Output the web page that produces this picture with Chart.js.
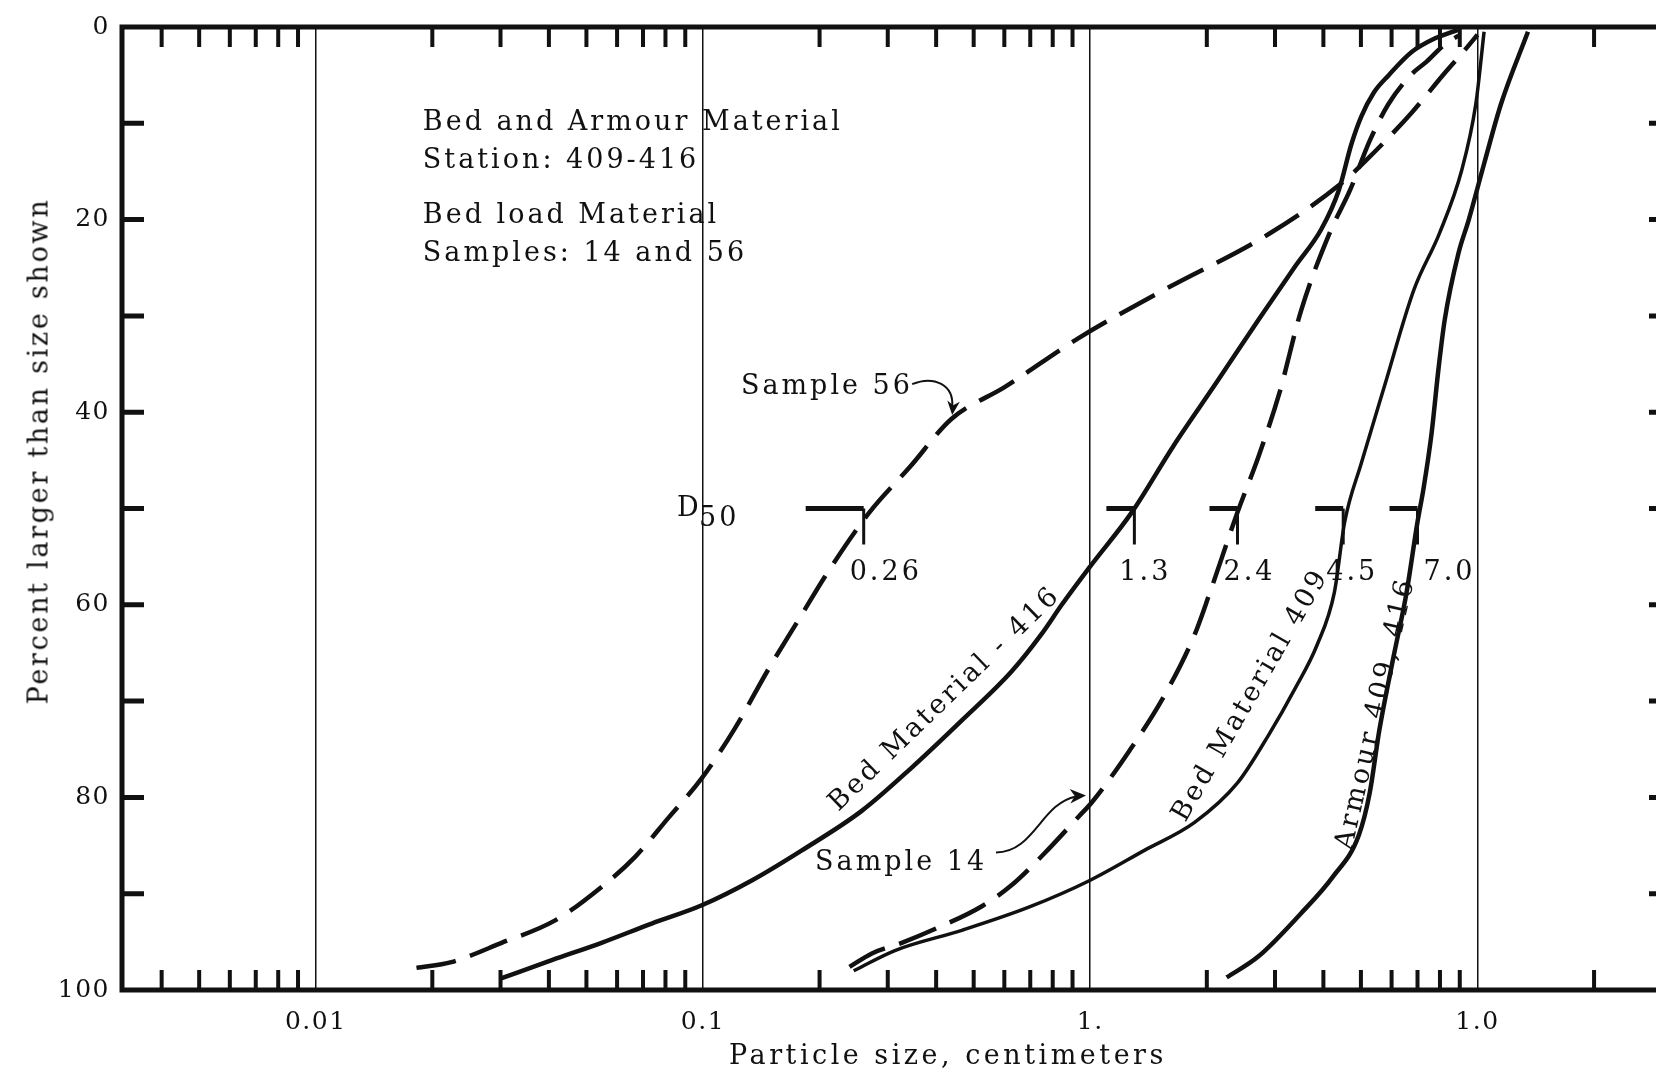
<!DOCTYPE html>
<html>
<head>
<meta charset="utf-8">
<title>Bed and Armour Material - grain size curves</title>
<script src="https://cdn.jsdelivr.net/npm/chart.js@4.4.1/dist/chart.umd.min.js"></script>
<style>
  html, body { margin: 0; padding: 0; background: #fff; overflow: hidden; }
  #wrap { position: relative; width: 1656px; height: 1073px; overflow: hidden; }
  #chart { position: absolute; left: 0; top: 0; }
  .axis-title {
    position: absolute;
    font-family: "DejaVu Serif", serif;
    font-size: 27px;
    color: #111;
    white-space: nowrap;
  }
  #xtitle { left: 948px; top: 1054px; letter-spacing: 3.5px; transform: translate(-50%, -50%); }
  #ytitle { left: 38px; top: 451px; letter-spacing: 2.7px; transform: translate(-50%, -50%) rotate(-90deg); }
</style>
</head>
<body>
<div id="wrap">
  <canvas id="chart" width="1720" height="1073" style="width:1720px;height:1073px"></canvas>
  <div class="axis-title" id="xtitle">Particle size, centimeters</div>
  <div class="axis-title" id="ytitle">Percent larger than size shown</div>
</div>
<script>
"use strict";

// --- data (size in cm, percent larger than size) ---
const BED_416_SIZE = [0.0301, 0.0407, 0.0547, 0.0737, 0.0993, 0.134, 0.180, 0.257, 0.346, 0.466, 0.627, 0.750, 0.844, 1.0, 1.28, 1.64, 2.12, 2.72, 3.39, 3.95, 4.38, 4.73, 5.01, 5.40, 5.90, 6.76, 7.75, 8.90];
const BED_416_PCT  = [98.8, 96.9, 95.1, 93.1, 91.2, 88.6, 85.5, 81.4, 76.9, 72.0, 66.9, 63.0, 60.0, 56.0, 50.4, 43.5, 36.9, 30.4, 24.8, 21.0, 17.0, 12.1, 9.3, 6.8, 5.0, 2.6, 1.2, 0.3];

const BED_409_SIZE = [0.245, 0.313, 0.466, 0.694, 1.0, 1.38, 1.86, 2.40, 2.89, 3.39, 3.85, 4.27, 4.54, 5.02, 5.76, 6.85, 7.98, 9.10, 9.90, 10.4];
const BED_409_PCT  = [98.0, 95.9, 93.8, 91.4, 88.6, 85.5, 82.6, 78.5, 73.5, 68.6, 64.2, 58.7, 51.4, 45.2, 37.2, 27.3, 21.4, 14.9, 8.0, 0.5];

const ARMOUR_SIZE = [2.25, 2.72, 3.49, 4.22, 4.94, 5.27, 5.58, 6.07, 6.56, 7.0, 7.25, 7.60, 7.93, 8.23, 8.93, 9.48, 10.4, 11.5, 13.5];
const ARMOUR_PCT  = [98.7, 96.5, 92.1, 88.3, 83.9, 79.5, 73.0, 65.4, 58.7, 51.4, 48.0, 42.4, 35.5, 30.4, 23.5, 20.1, 14.2, 8.0, 0.5];

const SAMPLE_56_SIZE = [0.0182, 0.0224, 0.0302, 0.0414, 0.0547, 0.0667, 0.0815, 0.0993, 0.121, 0.148, 0.180, 0.207, 0.269, 0.342, 0.438, 0.601, 0.933, 1.55, 2.89, 4.46, 5.17, 6.76, 8.22, 9.27, 10.0];
const SAMPLE_56_PCT  = [97.7, 97.1, 95.1, 92.8, 89.3, 86.2, 82.1, 78.0, 72.8, 66.6, 61.0, 57.0, 50.4, 45.7, 40.7, 37.4, 32.3, 27.3, 21.5, 16.2, 13.8, 8.9, 4.8, 2.4, 0.8];

const SAMPLE_14_SIZE = [0.239, 0.273, 0.326, 0.406, 0.525, 0.627, 0.762, 0.933, 1.01, 1.26, 1.56, 1.86, 2.03, 2.40, 2.72, 3.08, 3.50, 4.15, 4.68, 5.27, 5.89, 6.76, 7.39, 8.23, 8.94];
const SAMPLE_14_PCT  = [97.6, 96.2, 95.1, 93.5, 91.3, 89.1, 85.8, 82.0, 80.5, 75.2, 69.3, 63.1, 58.9, 50.4, 44.6, 38.0, 29.5, 21.4, 17.0, 11.8, 8.0, 4.9, 3.6, 1.8, 0.9];

// D50 markers
const D50_LEVEL = 50;
const D50_VALUES = [0.26, 1.3, 2.4, 4.5, 7.0];
const D50_LABELS = ["0.26", "1.3", "2.4", "4.5", "7.0"];

// axes
const X_MIN = 0.00316, X_MAX = 31.6;
const X_GRID = [0.01, 0.1, 1, 10];
const X_GRID_LABELS = ["0.01", "0.1", "1.", "1.0"];
const X_MINOR_MULT = [2, 3, 4, 5, 6, 7, 8, 9];
const X_DECADES = [0.001, 0.01, 0.1, 1, 10];
const Y_LABELS = [0, 20, 40, 60, 80, 100];
const Y_SIDE_TICKS = [10, 20, 30, 40, 50, 60, 70, 80, 90];

// --- styling / layout ---
const INK = "#111";
const FONT = "DejaVu Serif";
const PLOT = { left: 122, top: 23, right: 1671, bottom: 990 };
const CANVAS_W = 1720, CANVAS_H = 1073;
const D50_BAR_LEN = [58, 28, 28, 28, 28];   // px
const D50_LABEL_DX = [-14, -15, -14, -17, 6]; // px, label offset from marker

// annotation texts anchored in data coordinates
const NOTES = [
  { text: "Bed and Armour Material", x: 0.0189, y: 10.7 },
  { text: "Station: 409-416", x: 0.0189, y: 14.6 },
  { text: "Bed load Material", x: 0.0189, y: 20.4 },
  { text: "Samples: 14 and 56", x: 0.0189, y: 24.3 },
  { text: "Sample 56", x: 0.1253, y: 37.4, base: "middle" },
  { text: "Sample 14", x: 0.1947, y: 86.8, base: "middle" },
  { text: "Bed Material - 416", x: 0.4217, y: 69.8, angle: -44, align: "center", base: "middle" },
  { text: "Bed Material 409", x: 2.60, y: 69.4, angle: -60, align: "center", base: "middle" },
  { text: "Armour 409, 416", x: 5.47, y: 71.3, angle: -77, align: "center", base: "middle" },
];

const zip = (xs, ys) => xs.map((v, i) => ({ x: v, y: ys[i] }));

function curve(label, xs, ys, width, dashed) {
  return {
    label,
    data: zip(xs, ys),
    borderColor: INK,
    borderWidth: width,
    borderDash: dashed ? [40, 15] : [],
    borderCapStyle: "butt",
    pointRadius: 0,
    cubicInterpolationMode: "monotone",
    fill: false,
  };
}

function minorTicks() {
  const out = [];
  for (const d of X_DECADES) {
    for (const m of X_MINOR_MULT) {
      const v = d * m;
      if (v > X_MIN && v < X_MAX) out.push(v);
    }
  }
  return out;
}

function arrowHead(ctx, tx, ty, angle, size) {
  ctx.save();
  ctx.translate(tx, ty);
  ctx.rotate(angle);
  ctx.beginPath();
  ctx.moveTo(0, 0);
  ctx.lineTo(-size, -size * 0.45);
  ctx.lineTo(-size * 0.7, 0);
  ctx.lineTo(-size, size * 0.45);
  ctx.closePath();
  ctx.fill();
  ctx.restore();
}

const paperPlugin = {
  id: "paper",
  beforeDraw(chart) {
    chart.ctx.letterSpacing = "1.5px";
  },
  afterDatasetsDraw(chart) {
    const { ctx, chartArea: a, scales: { x, y } } = chart;
    ctx.save();
    ctx.strokeStyle = INK;
    ctx.fillStyle = INK;
    ctx.lineCap = "butt";

    // frame
    ctx.lineWidth = 5;
    ctx.strokeRect(a.left, a.top, a.right - a.left, a.bottom - a.top);

    // side ticks (inward)
    ctx.beginPath();
    for (const v of Y_SIDE_TICKS) {
      const py = y.getPixelForValue(v);
      ctx.moveTo(a.left, py); ctx.lineTo(a.left + 22, py);
      ctx.moveTo(a.right, py); ctx.lineTo(a.right - 22, py);
    }
    ctx.stroke();

    // log minor ticks on top and bottom edges (inward)
    ctx.lineWidth = 4;
    ctx.beginPath();
    for (const v of minorTicks()) {
      const px = x.getPixelForValue(v);
      ctx.moveTo(px, a.top); ctx.lineTo(px, a.top + 20);
      ctx.moveTo(px, a.bottom); ctx.lineTo(px, a.bottom - 20);
    }
    ctx.stroke();

    // D50 markers
    ctx.font = `27px "${FONT}"`;
    ctx.letterSpacing = "3px";
    const py50 = y.getPixelForValue(D50_LEVEL);
    D50_VALUES.forEach((v, i) => {
      const px = x.getPixelForValue(v);
      ctx.lineWidth = 5;
      ctx.beginPath(); ctx.moveTo(px - D50_BAR_LEN[i], py50); ctx.lineTo(px, py50); ctx.stroke();
      ctx.lineWidth = 3;
      ctx.beginPath(); ctx.moveTo(px, py50); ctx.lineTo(px, py50 + 36); ctx.stroke();
      ctx.textAlign = "left";
      ctx.textBaseline = "middle";
      ctx.fillText(D50_LABELS[i], px + D50_LABEL_DX[i], y.getPixelForValue(56.7));
    });
    // "D50" caption
    ctx.textBaseline = "middle";
    ctx.fillText("D", x.getPixelForValue(0.0857), y.getPixelForValue(50.1));
    ctx.fillText("50", x.getPixelForValue(0.0977), y.getPixelForValue(51.1));

    // notes
    for (const n of NOTES) {
      ctx.save();
      ctx.translate(x.getPixelForValue(n.x), y.getPixelForValue(n.y));
      if (n.angle) ctx.rotate(n.angle * Math.PI / 180);
      ctx.textAlign = n.align || "left";
      ctx.textBaseline = n.base || "alphabetic";
      ctx.fillText(n.text, 0, 0);
      ctx.restore();
    }

    // arrows from "Sample" labels to their curves
    ctx.lineWidth = 2;
    let tx = x.getPixelForValue(0.44), ty = y.getPixelForValue(40.3);
    ctx.beginPath();
    ctx.moveTo(tx - 40, ty - 31);
    ctx.bezierCurveTo(tx - 18, ty - 40, tx + 2, ty - 30, tx, ty - 8);
    ctx.stroke();
    arrowHead(ctx, tx, ty, Math.PI / 2 + 0.1, 14);

    tx = x.getPixelForValue(0.975); ty = y.getPixelForValue(79.8);
    ctx.beginPath();
    ctx.moveTo(tx - 90, ty + 57);
    ctx.bezierCurveTo(tx - 52, ty + 57, tx - 45, ty + 8, tx - 10, ty + 1);
    ctx.stroke();
    arrowHead(ctx, tx, ty, -0.05, 16);

    ctx.restore();
  },
};

new Chart(document.getElementById("chart"), {
  type: "line",
  data: {
    datasets: [
      curve("Bed Material - 416", BED_416_SIZE, BED_416_PCT, 4.5, false),
      curve("Bed Material 409", BED_409_SIZE, BED_409_PCT, 3.5, false),
      curve("Armour 409, 416", ARMOUR_SIZE, ARMOUR_PCT, 4.5, false),
      curve("Sample 56", SAMPLE_56_SIZE, SAMPLE_56_PCT, 4.5, true),
      curve("Sample 14", SAMPLE_14_SIZE, SAMPLE_14_PCT, 4.5, true),
    ],
  },
  options: {
    responsive: false,
    devicePixelRatio: 1,
    animation: false,
    layout: { padding: { top: PLOT.top, right: CANVAS_W - PLOT.right, left: 0, bottom: 0 } },
    plugins: { legend: { display: false }, tooltip: { enabled: false } },
    scales: {
      x: {
        type: "logarithmic",
        min: X_MIN,
        max: X_MAX,
        afterBuildTicks: (s) => { s.ticks = X_GRID.map((v) => ({ value: v })); },
        afterFit: (s) => { s.height = CANVAS_H - PLOT.bottom; },
        grid: { color: INK, lineWidth: 1.5, drawTicks: false },
        border: { display: false },
        ticks: {
          autoSkip: false,
          maxRotation: 0,
          padding: 17,
          color: INK,
          font: { family: FONT, size: 25 },
          callback: (v, i) => X_GRID_LABELS[i],
        },
      },
      y: {
        type: "linear",
        reverse: true,
        min: 0,
        max: 100,
        afterBuildTicks: (s) => { s.ticks = Y_LABELS.map((v) => ({ value: v })); },
        afterFit: (s) => { s.width = PLOT.left; },
        grid: { display: false, drawTicks: false },
        border: { display: false },
        ticks: {
          padding: 12,
          color: INK,
          font: { family: FONT, size: 25 },
        },
      },
    },
  },
  plugins: [paperPlugin],
});
</script>
</body>
</html>
